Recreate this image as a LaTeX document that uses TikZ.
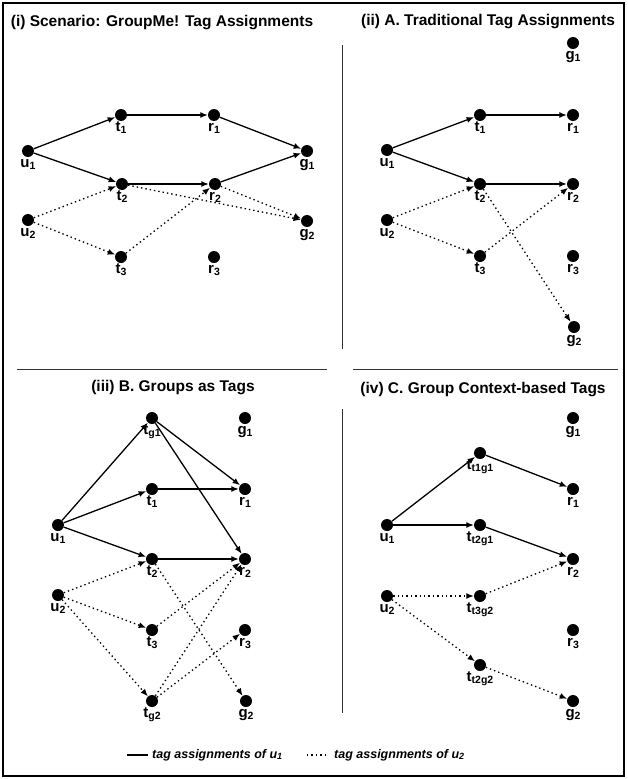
\documentclass[tikz,border=0pt]{standalone}
\usepackage{fontspec}
\setmainfont{Liberation Sans}
\usetikzlibrary{arrows.meta}
\newcommand\lsub[1]{\raisebox{-0.12em}{\fontsize{10.5}{10.5}\selectfont#1}}

\begin{document}
\begin{tikzpicture}[x=1pt,y=-1pt,>={Latex[length=7.5pt,width=6pt]},
  dot/.style={circle,fill,inner sep=0pt,minimum size=12pt},
  lab/.style={font=\bfseries\fontsize{15}{15}\selectfont,inner sep=0pt,text height=9pt,text depth=3pt,label distance=1.5pt},
  ttl/.style={font=\bfseries\fontsize{15.5}{16}\selectfont,inner sep=0pt},
  leg/.style={font=\bfseries\itshape\fontsize{12.5}{13}\selectfont,inner sep=0pt,anchor=west},
  sol/.style={->,line width=1.3pt},
  dts/.style={->,line width=1.3pt,dash pattern=on 1.4pt off 3pt}]
\useasboundingbox (0,0) rectangle (627,779);
\draw[line width=1.5pt] (3,3) rectangle (624,776);
% dividers
\draw[line width=0.8pt,black!80] (342,45)--(342,349) (342,409)--(342,713)
  (17,369)--(327,369) (353,369)--(618,369);
% titles
\node[ttl] (ti) at (162,23) {(i) Scenario: GroupMe! Tag Assignments};
\node[ttl] (tii) at (488,22) {(ii) A. Traditional Tag Assignments};
\node[ttl] (tiii) at (173,388) {(iii) B. Groups as Tags};
\node[ttl] (tiv) at (483,390) {(iv) C. Group Context-based Tags};
% (i) scenario
\foreach \n/\x/\y/\s/\i in {u1/28/151/u/1,t1/121/115/t/1,r1/214/115/r/1,g1/307/151/g/1,
  t2/122/184/t/2,r2/215/184/r/2,u2/28/220/u/2,g2/307/221/g/2,t3/121/257/t/3,r3/214/257/r/3}
  \node[dot,label={[lab]below:\s\lsub{\i}}] (a\n) at (\x,\y) {};
\draw[sol] (au1)--(at1); \draw[sol] (au1)--(at2); \draw[sol] (at1)--(ar1);
\draw[sol] (at2)--(ar2); \draw[sol] (ar1)--(ag1); \draw[sol] (ar2)--(ag1);
\draw[dts] (au2)--(at2); \draw[dts] (au2)--(at3); \draw[dts] (at3)--(ar2);
\draw[dts] (at2)--(ag2); \draw[dts] (ar2)--(ag2);
% (ii) traditional
\foreach \n/\x/\y/\s/\i in {g1/573/43/g/1,t1/480/115/t/1,r1/573/115/r/1,u1/387/150/u/1,
  t2/480/184/t/2,r2/573/184/r/2,u2/387/220/u/2,t3/480/256/t/3,r3/573/256/r/3,g2/574/327/g/2}
  \node[dot,label={[lab]below:\s\lsub{\i}}] (b\n) at (\x,\y) {};
\draw[sol] (bu1)--(bt1); \draw[sol] (bu1)--(bt2); \draw[sol] (bt1)--(br1);
\draw[sol] (bt2)--(br2);
\draw[dts] (bu2)--(bt2); \draw[dts] (bu2)--(bt3); \draw[dts] (bt3)--(br2);
\draw[dts] (bt2)--(bg2);
% (iii) groups as tags
\foreach \n/\x/\y/\s/\i in {tg1/152/418/t/g1,g1/245/418/g/1,t1/152/489/t/1,r1/245/489/r/1,
  u1/58/525/u/1,t2/152/559/t/2,r2/245/559/r/2,u2/58/595/u/2,t3/152/630/t/3,r3/245/630/r/3,
  tg2/152/701/t/g2,g2/246/701/g/2}
  \node[dot,label={[lab]below:\s\lsub{\i}}] (c\n) at (\x,\y) {};
\draw[sol] (cu1)--(ctg1); \draw[sol] (cu1)--(ct1); \draw[sol] (cu1)--(ct2);
\draw[sol] (ctg1)--(cr1); \draw[sol] (ctg1)--(cr2); \draw[sol] (ct1)--(cr1);
\draw[sol] (ct2)--(cr2);
\draw[dts] (cu2)--(ct2); \draw[dts] (cu2)--(ct3); \draw[dts] (cu2)--(ctg2);
\draw[dts] (ct3)--(cr2); \draw[dts] (ctg2)--(cr2); \draw[dts] (ctg2)--(cr3);
\draw[dts] (ct2)--(cg2);
% (iv) group context-based tags
\foreach \n/\x/\y/\s/\i in {g1/573/418/g/1,t1/480/453/t/t1g1,r1/573/489/r/1,u1/387/525/u/1,
  t2/480/525/t/t2g1,r2/573/559/r/2,u2/387/596/u/2,t3/480/596/t/t3g2,r3/573/630/r/3,
  t4/480/665/t/t2g2,g2/573/701/g/2}
  \node[dot,label={[lab]below:\s\lsub{\i}}] (d\n) at (\x,\y) {};
\draw[sol] (du1)--(dt1); \draw[sol] (du1)--(dt2); \draw[sol] (dt1)--(dr1);
\draw[sol] (dt2)--(dr2);
\draw[dts] (du2)--(dt3); \draw[dts] (du2)--(dt4); \draw[dts] (dt3)--(dr2);
\draw[dts] (dt4)--(dg2);
% legend
\coordinate (ls1) at (127,755); \coordinate (ls2) at (148,755);
\coordinate (ld1) at (307,755); \coordinate (ld2) at (328,755);
\draw[line width=1.3pt] (ls1)--(ls2);
\draw[line width=1.3pt,dash pattern=on 1.4pt off 3pt] (ld1)--(ld2);
\node[leg] (lsol) at (152,755) {tag assignments of u{\fontsize{9}{9}\selectfont\raisebox{-0.1em}{1}}};
\node[leg] (ldot) at (334,755) {tag assignments of u{\fontsize{9}{9}\selectfont\raisebox{-0.1em}{2}}};
\end{tikzpicture}
\end{document}
